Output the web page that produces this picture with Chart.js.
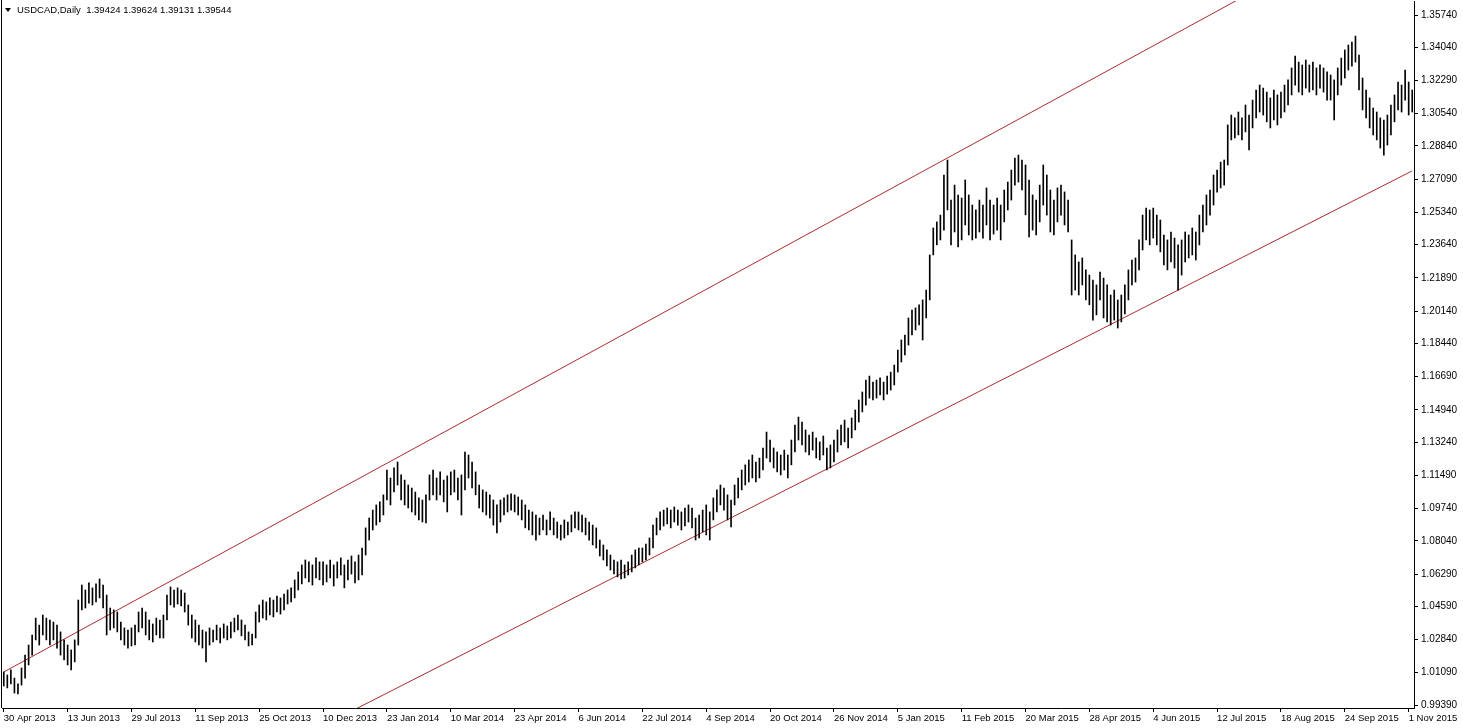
<!DOCTYPE html>
<html>
<head>
<meta charset="utf-8">
<script src="https://cdn.jsdelivr.net/npm/chart.js@4.4.1/dist/chart.umd.min.js"></script>
<style>
  html, body { margin: 0; padding: 0; background: #fff; }
</style>
</head>
<body>
<canvas id="myChart" width="1463" height="728"></canvas>
<script>
// Set up
  const symbolTitle = 'USDCAD,Daily  1.39424 1.39624 1.39131 1.39544';

  const tickLabels = [
    '30 Apr 2013', '13 Jun 2013', '29 Jul 2013', '11 Sep 2013', '25 Oct 2013', '10 Dec 2013',
    '23 Jan 2014', '10 Mar 2014', '23 Apr 2014', '6 Jun 2014', '22 Jul 2014', '4 Sep 2014',
    '20 Oct 2014', '26 Nov 2014', '5 Jan 2015', '11 Feb 2015', '20 Mar 2015', '28 Apr 2015',
    '4 Jun 2015', '12 Jul 2015', '18 Aug 2015', '24 Sep 2015', '1 Nov 2015'
  ];
  const barsPerLabel = 18;

  const yTicks = [
    1.35740, 1.34040, 1.32290, 1.30540, 1.28840, 1.27090, 1.25340, 1.23640, 1.21890, 1.20140, 1.18440,
    1.16690, 1.14940, 1.13240, 1.11490, 1.09740, 1.08040, 1.06290, 1.04590, 1.02840, 1.01090, 0.99390
  ];

  // daily highs / lows, one row per label interval
  const highs = [
    1.0113,1.0097,1.0124,1.0081,1.0050,1.0134,1.0202,1.0255,1.0308,1.0397,1.0360,1.0413,1.0397,1.0387,1.0376,1.0360,1.0324,1.0282,
    1.0255,1.0229,1.0282,1.0492,1.0571,1.0545,1.0582,1.0556,1.0577,1.0603,1.0571,1.0518,1.0450,1.0440,1.0429,1.0376,1.0345,1.0334,
    1.0345,1.0360,1.0429,1.0450,1.0429,1.0387,1.0366,1.0397,1.0387,1.0413,1.0518,1.0561,1.0545,1.0556,1.0545,1.0529,1.0466,1.0413,
    1.0387,1.0360,1.0334,1.0324,1.0345,1.0334,1.0360,1.0345,1.0366,1.0355,1.0376,1.0397,1.0413,1.0387,1.0360,1.0324,1.0313,1.0429,
    1.0466,1.0492,1.0482,1.0503,1.0492,1.0513,1.0503,1.0524,1.0545,1.0556,1.0598,1.0640,1.0677,1.0703,1.0693,1.0677,1.0714,1.0693,
    1.0693,1.0677,1.0703,1.0677,1.0693,1.0714,1.0677,1.0703,1.0724,1.0693,1.0729,1.0766,1.0872,1.0924,1.0966,1.0993,1.1009,1.1046,
    1.1177,1.1135,1.1188,1.1219,1.1151,1.1124,1.1098,1.1082,1.1061,1.1030,1.1019,1.1046,1.1151,1.1177,1.1135,1.1167,1.1124,1.1146,
    1.1167,1.1177,1.1135,1.1151,1.1272,1.1256,1.1219,1.1167,1.1098,1.1072,1.1061,1.1046,1.1019,1.0993,1.1019,1.1030,1.1046,1.1051,
    1.1046,1.1035,1.1019,1.0993,1.0966,1.0956,1.0940,1.0924,1.0940,1.0914,1.0956,1.0924,1.0903,1.0887,1.0914,1.0903,1.0940,1.0956,
    1.0956,1.0940,1.0924,1.0903,1.0887,1.0872,1.0808,1.0782,1.0756,1.0729,1.0703,1.0693,1.0703,1.0677,1.0693,1.0729,1.0756,1.0766,
    1.0766,1.0787,1.0819,1.0887,1.0924,1.0956,1.0966,1.0977,1.0966,1.0982,1.0966,1.0956,1.0977,1.0993,1.0977,1.0924,1.0940,1.0966,
    1.0993,1.0956,1.1030,1.1072,1.1098,1.1082,1.1046,1.1019,1.1098,1.1135,1.1177,1.1204,1.1230,1.1256,1.1219,1.1240,1.1293,1.1377,
    1.1335,1.1293,1.1272,1.1256,1.1282,1.1256,1.1335,1.1414,1.1456,1.1430,1.1388,1.1361,1.1377,1.1346,1.1325,1.1356,1.1293,1.1309,
    1.1335,1.1388,1.1414,1.1440,1.1398,1.1451,1.1493,1.1546,1.1588,1.1651,1.1672,1.1640,1.1651,1.1662,1.1640,1.1672,1.1693,1.1730,
    1.1809,1.1862,1.1888,1.1978,1.2020,1.2031,1.2047,1.2073,1.2125,1.2310,1.2452,1.2484,1.2520,1.2731,1.2810,1.2599,1.2678,1.2626,
    1.2610,1.2705,1.2626,1.2573,1.2547,1.2599,1.2573,1.2663,1.2599,1.2573,1.2610,1.2573,1.2652,1.2694,1.2757,1.2820,1.2836,1.2810,
    1.2784,1.2705,1.2626,1.2599,1.2678,1.2784,1.2731,1.2652,1.2599,1.2663,1.2678,1.2642,1.2599,1.2389,1.2310,1.2273,1.2294,1.2231,
    1.2204,1.2178,1.2152,1.2220,1.2188,1.2152,1.2099,1.2125,1.2073,1.2099,1.2152,1.2231,1.2283,1.2294,1.2389,1.2520,1.2557,1.2547,
    1.2557,1.2520,1.2494,1.2415,1.2389,1.2431,1.2399,1.2363,1.2389,1.2431,1.2415,1.2452,1.2431,1.2520,1.2573,1.2626,1.2652,1.2731,
    1.2757,1.2799,1.2810,1.2995,1.3047,1.3032,1.3063,1.3032,1.3100,1.3047,1.3126,1.3179,1.3205,1.3189,1.3168,1.3137,1.3179,1.3153,
    1.3168,1.3205,1.3232,1.3295,1.3358,1.3326,1.3311,1.3337,1.3311,1.3326,1.3295,1.3311,1.3295,1.3274,1.3258,1.3232,1.3295,1.3347,
    1.3390,1.3416,1.3432,1.3463,1.3363,1.3242,1.3179,1.3137,1.3084,1.3063,1.3032,1.3021,1.3047,1.3100,1.3153,1.3221,1.3205,1.3284,1.3221,1.3179
  ];

  const lows = [
    1.0039,1.0029,1.0050,1.0002,0.9997,1.0044,1.0081,1.0150,1.0202,1.0282,1.0255,1.0308,1.0282,1.0255,1.0282,1.0239,1.0202,1.0176,
    1.0150,1.0124,1.0166,1.0255,1.0440,1.0450,1.0476,1.0466,1.0482,1.0503,1.0450,1.0308,1.0334,1.0345,1.0324,1.0282,1.0255,1.0239,
    1.0250,1.0255,1.0324,1.0345,1.0308,1.0282,1.0271,1.0308,1.0292,1.0292,1.0387,1.0466,1.0455,1.0471,1.0461,1.0429,1.0360,1.0292,
    1.0271,1.0255,1.0239,1.0166,1.0255,1.0271,1.0282,1.0266,1.0292,1.0282,1.0292,1.0324,1.0334,1.0303,1.0282,1.0250,1.0255,1.0292,
    1.0376,1.0397,1.0387,1.0413,1.0403,1.0429,1.0418,1.0440,1.0471,1.0482,1.0503,1.0545,1.0577,1.0608,1.0587,1.0571,1.0608,1.0598,
    1.0571,1.0587,1.0608,1.0566,1.0608,1.0624,1.0556,1.0598,1.0629,1.0582,1.0598,1.0624,1.0729,1.0808,1.0861,1.0887,1.0903,1.0940,
    1.1019,1.0993,1.1061,1.1098,1.1019,1.0993,1.0977,1.0956,1.0940,1.0914,1.0903,1.0898,1.1019,1.1046,1.1019,1.1046,1.1009,1.0956,
    1.1046,1.1061,1.1019,1.0940,1.1072,1.1135,1.1082,1.1046,1.0977,1.0956,1.0940,1.0924,1.0887,1.0845,1.0903,1.0940,1.0956,1.0966,
    1.0956,1.0940,1.0914,1.0872,1.0861,1.0835,1.0808,1.0835,1.0861,1.0835,1.0861,1.0835,1.0819,1.0808,1.0819,1.0835,1.0851,1.0872,
    1.0861,1.0851,1.0835,1.0808,1.0782,1.0766,1.0724,1.0703,1.0672,1.0650,1.0629,1.0614,1.0603,1.0608,1.0624,1.0640,1.0661,1.0677,
    1.0693,1.0703,1.0729,1.0766,1.0835,1.0861,1.0882,1.0893,1.0872,1.0903,1.0887,1.0861,1.0882,1.0903,1.0872,1.0808,1.0819,1.0851,
    1.0835,1.0808,1.0914,1.0956,1.0993,1.0966,1.0914,1.0877,1.0993,1.1030,1.1072,1.1098,1.1114,1.1135,1.1114,1.1135,1.1177,1.1240,
    1.1219,1.1188,1.1167,1.1151,1.1177,1.1135,1.1204,1.1272,1.1335,1.1309,1.1272,1.1256,1.1282,1.1240,1.1230,1.1256,1.1177,1.1188,
    1.1219,1.1272,1.1309,1.1325,1.1293,1.1346,1.1388,1.1430,1.1483,1.1519,1.1556,1.1546,1.1556,1.1572,1.1546,1.1577,1.1598,1.1625,
    1.1693,1.1746,1.1783,1.1835,1.1888,1.1915,1.1941,1.1862,1.1978,1.2073,1.2310,1.2363,1.2389,1.2441,1.2547,1.2363,1.2431,1.2352,
    1.2389,1.2468,1.2415,1.2389,1.2399,1.2431,1.2399,1.2468,1.2389,1.2420,1.2441,1.2389,1.2484,1.2547,1.2599,1.2678,1.2694,1.2652,
    1.2521,1.2405,1.2441,1.2415,1.2484,1.2573,1.2520,1.2431,1.2415,1.2484,1.2520,1.2468,1.2431,1.2099,1.2125,1.2099,1.2152,1.2073,
    1.2047,1.1967,1.1994,1.2073,1.1978,1.1957,1.1941,1.1967,1.1925,1.1957,1.1999,1.2073,1.2152,1.2167,1.2231,1.2336,1.2389,1.2363,
    1.2399,1.2363,1.2326,1.2257,1.2231,1.2273,1.2241,1.2125,1.2204,1.2273,1.2294,1.2310,1.2283,1.2363,1.2431,1.2468,1.2520,1.2573,
    1.2641,1.2663,1.2678,1.2784,1.2916,1.2926,1.2942,1.2916,1.2958,1.2863,1.2979,1.3032,1.3063,1.3047,1.3011,1.2979,1.3021,1.2995,
    1.3032,1.3063,1.3100,1.3153,1.3205,1.3168,1.3153,1.3189,1.3168,1.3179,1.3153,1.3189,1.3168,1.3126,1.3126,1.3021,1.3153,1.3205,
    1.3242,1.3284,1.3305,1.3326,1.3179,1.3074,1.3032,1.2979,1.2942,1.2916,1.2873,1.2836,1.2889,1.2942,1.3011,1.3074,1.3063,1.3126,1.3047,1.3063
  ];

  // channel lines: bar index / price end points
  const upperChannel = [{ x: 0, y: 1.0113 }, { x: 360, y: 1.3778 }];
  const lowerChannel = [{ x: 95, y: 0.9878 }, { x: 397, y: 1.2753 }];

  Chart.defaults.font.family = '"Liberation Sans", Arial, sans-serif';
  Chart.defaults.font.size = 10;
  Chart.defaults.color = '#000';

  // title text + left frame line, MT4 style
  const chartFrame = {
    id: 'chartFrame',
    afterDraw(chart) {
      const ctx = chart.ctx;
      const area = chart.chartArea;
      ctx.save();
      ctx.strokeStyle = '#000';
      ctx.lineWidth = 1;
      ctx.beginPath();
      ctx.moveTo(area.left - 0.5, 0);
      ctx.lineTo(area.left - 0.5, area.bottom);
      ctx.stroke();

      ctx.fillStyle = '#000';
      ctx.beginPath();
      ctx.moveTo(5, 8);
      ctx.lineTo(11, 8);
      ctx.lineTo(8, 12);
      ctx.closePath();
      ctx.fill();

      ctx.font = '9.5px "Liberation Sans", Arial, sans-serif';
      ctx.textBaseline = 'middle';
      ctx.textAlign = 'left';
      ctx.fillText(symbolTitle, 17, 10);
      ctx.restore();
    }
  };

  const data = {
    labels: highs.map((h, i) => i),
    datasets: [
      {
        type: 'bar',
        label: 'USDCAD',
        data: lows.map((lo, i) => [lo, highs[i]]),
        backgroundColor: '#000',
        borderWidth: 0,
        barThickness: 1
      },
      {
        type: 'line',
        label: 'upper',
        data: upperChannel,
        borderColor: 'rgb(170, 45, 45)',
        borderWidth: 1,
        pointRadius: 0,
        fill: false
      },
      {
        type: 'line',
        label: 'lower',
        data: lowerChannel,
        borderColor: 'rgb(170, 45, 45)',
        borderWidth: 1,
        pointRadius: 0,
        fill: false
      }
    ]
  };

  const config = {
    type: 'bar',
    data: data,
    plugins: [chartFrame],
    options: {
      responsive: false,
      animation: false,
      devicePixelRatio: 1,
      layout: { padding: { left: 2, top: 1, right: 0, bottom: 0 } },
      plugins: {
        legend: { display: false },
        tooltip: { enabled: false }
      },
      scales: {
        x: {
          type: 'category',
          offset: true,
          grid: { offset: false, drawOnChartArea: false, tickLength: 4, color: '#000' },
          border: { color: '#000' },
          ticks: {
            autoSkip: false,
            maxRotation: 0,
            align: 'start',
            padding: 1,
            font: { size: 9.5 },
            callback: (v) => tickLabels[v / barsPerLabel]
          },
          afterBuildTicks: (s) => {
            s.ticks = tickLabels.map((t, k) => ({ value: k * barsPerLabel }));
          },
          afterFit: (s) => {
            s.height = 20;
            s.paddingLeft = 0;
            s.paddingRight = 0;
          }
        },
        y: {
          position: 'right',
          min: 0.99232,
          max: 1.36478,
          grid: { drawOnChartArea: false, tickLength: 4, color: '#000' },
          border: { color: '#000' },
          ticks: {
            padding: 3,
            callback: (v) => v.toFixed(5)
          },
          afterBuildTicks: (s) => {
            s.ticks = yTicks.map((v) => ({ value: v }));
          },
          afterFit: (s) => {
            s.width = 49;
            s.paddingTop = 0;
            s.paddingBottom = 0;
          }
        }
      }
    }
  };

// Config
  const myChart = new Chart(
    document.getElementById('myChart'),
    config
  );
</script>
</body>
</html>
